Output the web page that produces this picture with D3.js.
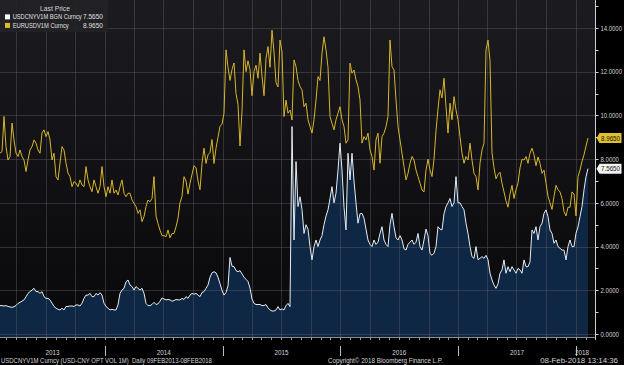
<!DOCTYPE html>
<html><head><meta charset="utf-8">
<script src="https://cdn.jsdelivr.net/npm/d3@7"></script>
<style>html,body{margin:0;padding:0;background:#000;overflow:hidden}</style>
</head><body><svg id="c" width="624" height="365"></svg>
<script>
const startDate = "2013-02-09", endDate = "2018-02-08";
const seriesNames = ["USDCNYV1M BGN Curncy", "EURUSDV1M Curncy"];
const lastValues = [7.5650, 8.9650];
const yTicks = [0, 2, 4, 6, 8, 10, 12, 14];
const yearLabels = ["2013", "2014", "2015", "2016", "2017", "2018"];
const footerLeft = "USDCNYV1M Curncy (USD-CNY OPT VOL 1M)  Daily 09FEB2013-08FEB2018";
const footerMid = "Copyright\u00A9 2018 Bloomberg Finance L.P.";
const footerRight = "08-Feb-2018 13:14:36";

// USD-CNY 1M option vol, evenly spaced samples between startDate and endDate
const usdcny = [
1.30,1.30,1.28,1.30,1.26,1.24,1.22,1.25,1.30,1.40,
1.45,1.50,1.56,1.70,1.86,1.94,2.01,2.09,1.94,1.94,
1.86,1.94,1.71,1.63,1.63,1.56,1.41,1.26,1.18,1.13,
1.10,1.18,1.10,1.26,1.26,1.28,1.28,1.26,1.33,1.33,
1.28,1.41,1.63,1.78,1.78,1.86,1.71,1.71,1.86,1.78,
1.89,1.78,1.41,1.26,1.18,1.10,1.13,1.10,1.10,1.33,
1.86,2.01,2.09,2.39,2.47,2.24,2.17,2.01,2.17,2.09,
2.01,2.09,1.86,1.40,1.30,1.30,1.35,1.45,1.35,1.38,
1.50,1.65,1.60,1.56,1.58,1.56,1.50,1.53,1.58,1.56,
1.56,1.63,1.58,1.71,1.63,1.78,1.86,1.82,1.86,1.78,
1.71,1.90,1.94,2.09,2.24,2.60,2.80,2.85,2.80,2.60,
2.30,2.00,1.78,1.90,2.20,3.50,3.10,3.08,2.90,2.85,
2.90,2.75,2.60,2.50,2.40,2.10,1.60,1.40,1.35,1.35,
1.35,1.30,1.30,1.35,1.20,1.10,1.05,1.05,1.10,1.25,
1.10,1.15,1.10,1.30,1.40,1.25,9.49,4.30,7.89,5.83,
6.28,5.70,4.60,5.00,4.80,4.00,3.39,4.00,4.30,4.00,
4.30,4.50,5.00,5.40,5.68,6.20,6.74,6.00,6.44,7.50,
8.73,7.50,5.80,4.76,8.27,7.05,8.27,7.00,6.00,5.07,
5.50,5.52,5.30,4.80,4.30,4.10,4.00,4.30,4.10,4.20,
4.60,4.91,4.30,4.10,4.00,5.00,5.52,4.90,4.40,4.30,
4.50,4.30,3.90,3.84,4.10,4.20,4.30,4.10,4.20,4.60,
4.00,3.84,4.30,4.80,4.50,3.69,3.60,3.70,4.00,4.91,
4.80,4.76,5.50,5.83,6.00,6.20,5.83,6.00,7.20,6.00,
6.00,5.83,5.68,5.07,4.60,4.00,3.54,3.46,4.00,3.40,
3.46,3.54,3.46,3.60,3.40,2.78,2.47,2.24,2.09,2.30,
2.78,2.93,3.39,2.78,3.08,2.85,3.08,2.93,2.78,3.00,
2.93,2.78,3.39,3.08,3.08,3.30,4.76,4.60,4.91,4.30,
4.91,5.07,5.52,5.68,5.37,4.76,4.60,4.15,4.30,4.00,
3.92,3.84,3.84,3.39,4.00,4.30,4.00,4.00,4.61,4.90,
5.37,5.83,6.59,7.20,7.565
];

// EUR-USD 1M option vol, same sample dates
const eurusd = [
8.28,8.34,9.95,8.57,7.96,8.12,9.65,8.88,8.28,8.12,
8.42,8.12,7.96,7.43,7.96,8.42,8.57,8.88,8.73,8.42,
8.27,9.20,9.34,9.03,9.26,8.88,7.96,8.27,7.20,7.05,
7.82,8.57,8.42,7.81,7.36,7.20,6.74,6.97,6.90,6.74,
7.05,6.82,6.74,7.66,7.05,6.74,6.51,7.05,6.74,6.44,
6.74,7.66,6.74,6.28,6.74,6.44,7.05,6.44,6.59,6.36,
6.74,7.05,6.44,6.28,6.44,6.44,6.13,5.98,5.83,5.52,
5.68,5.14,5.37,5.83,6.13,6.05,6.20,7.20,5.40,5.05,
4.75,4.50,4.50,4.45,4.76,4.40,4.60,4.60,4.90,5.30,
6.00,6.30,7.20,7.00,6.40,6.90,7.30,7.70,7.60,7.00,
6.60,7.80,8.50,7.80,8.20,8.30,8.90,7.80,8.50,9.00,
9.50,9.60,10.10,13.00,12.20,11.60,12.10,12.40,11.00,10.50,
8.60,10.20,13.00,12.00,12.50,12.10,10.90,12.00,12.30,11.70,
12.85,11.80,10.90,12.60,13.15,12.20,13.90,12.90,11.50,11.30,
13.45,12.90,9.95,10.70,10.10,10.25,9.79,12.54,12.23,11.60,
11.32,11.17,10.40,10.56,9.80,9.49,9.19,9.80,10.70,11.78,
11.60,12.85,13.60,13.00,12.20,9.95,9.64,9.34,9.80,10.10,
10.40,9.80,9.49,8.73,8.88,12.39,11.93,12.08,11.63,11.32,
10.71,8.73,9.03,8.88,9.19,8.42,8.12,7.50,8.88,9.19,
7.81,9.03,9.19,9.49,9.95,13.45,12.23,12.08,10.71,9.49,
8.88,8.27,7.66,7.05,7.35,7.81,8.12,7.96,7.50,7.20,
6.90,6.59,6.50,7.50,8.00,7.50,7.20,8.00,9.30,10.30,
11.17,10.80,11.70,10.40,9.19,10.56,9.80,10.86,10.25,9.80,
9.03,8.27,7.81,8.12,7.96,8.73,7.96,7.35,7.20,6.59,
7.81,8.42,8.73,13.00,13.45,12.50,8.30,7.60,7.10,7.30,
7.40,6.90,6.50,6.10,5.80,6.40,6.80,6.20,6.60,6.90,
7.60,8.00,7.96,8.12,7.81,8.27,8.50,8.20,7.70,8.10,
7.80,7.35,7.50,6.90,6.30,6.00,5.70,6.30,6.80,6.60,
6.50,6.20,5.60,5.40,5.80,5.80,6.50,6.40,5.40,7.20,
7.50,7.90,8.20,8.60,8.965
];

const W = 624, H = 365;
const plotL = 0, plotR = 595, plotT = 0, plotB = 337;
const svg = d3.select("#c");
const font = "'Liberation Sans',Arial,sans-serif";

// text squeezed horizontally to a target width (Bloomberg uses a condensed face)
function txt(parent, x, y, s, size, width, anchor, fill) {
  const gg = parent.append("g");
  const t = gg.append("text").attr("x", 0).attr("y", 0).text(s)
    .attr("font-family", font).attr("font-size", size).attr("fill", fill || "#d4d4d4")
    .attr("text-anchor", anchor || "start").attr("xml:space", "preserve");
  let sx = 1;
  if (width) { const L = t.node().getComputedTextLength(); if (L > 0) sx = width / L; }
  gg.attr("transform", `translate(${x},${y}) scale(${sx},1)`);
  return t;
}

const t0 = new Date(startDate + "T00:00:00"), t1 = new Date(endDate + "T00:00:00");
const x = d3.scaleTime().domain([t0, t1]).range([0, 588]);
const y = d3.scaleLinear().domain([0, 14]).range([334, 28]);

const n = usdcny.length;
const dateAt = i => new Date(+t0 + (t1 - t0) * i / (n - 1));
const dA = usdcny.map((v, i) => ({d: dateAt(i), v}));
const dB = eurusd.map((v, i) => ({d: dateAt(i), v}));

svg.append("rect").attr("width", W).attr("height", H).attr("fill", "#000");
const defs = svg.append("defs");
const g = defs.append("linearGradient").attr("id", "bg").attr("x1", 0).attr("y1", 0).attr("x2", 0).attr("y2", 1);
g.append("stop").attr("offset", "0%").attr("stop-color", "#1b1b20");
g.append("stop").attr("offset", "100%").attr("stop-color", "#08080a");
svg.append("rect").attr("x", plotL).attr("y", plotT).attr("width", plotR - plotL).attr("height", plotB - plotT).attr("fill", "url(#bg)");

// area
svg.append("path").datum(dA)
  .attr("d", d3.area().x(d => x(d.d)).y0(plotB).y1(d => y(d.v)))
  .attr("fill", "#0d2745");

// gridlines
const grid = svg.append("g").attr("stroke", "#5a5a60").attr("stroke-opacity", 0.45).attr("stroke-width", 1);
x.ticks(d3.timeMonth.every(3)).forEach(d => {
  const xx = Math.round(x(d)) + 0.5;
  grid.append("line").attr("x1", xx).attr("x2", xx).attr("y1", plotT).attr("y2", plotB);
});
yTicks.forEach(v => {
  const yy = Math.round(y(v)) + 0.5;
  grid.append("line").attr("x1", plotL).attr("x2", plotR).attr("y1", yy).attr("y2", yy);
});

// lines
svg.append("path").datum(dB)
  .attr("d", d3.line().x(d => x(d.d)).y(d => y(d.v)))
  .attr("fill", "none").attr("stroke", "#d7b52b").attr("stroke-width", 1);
svg.append("path").datum(dA)
  .attr("d", d3.line().x(d => x(d.d)).y(d => y(d.v)))
  .attr("fill", "none").attr("stroke", "#e6ecf3").attr("stroke-width", 1);

// right axis
const ax = svg.append("g").attr("transform", `translate(${plotR + 0.5},0)`);
ax.append("line").attr("y1", 0).attr("y2", plotB + 3).attr("stroke", "#cfcfcf").attr("stroke-width", 1);
d3.range(0, 16).forEach(v => {
  const yy = Math.round(y(v)) + 0.5;
  if (yy > 0) ax.append("line").attr("x1", 0).attr("x2", 3).attr("y1", yy).attr("y2", yy).attr("stroke", "#cfcfcf");
});
yTicks.forEach(v => {
  txt(ax, 5, y(v) + 2.7, d3.format(".4f")(v), 7.6, v >= 10 ? 21.5 : 18.5);
});

// last value tags
const tagColors = ["#f2f2f2", "#e1c02e"];
lastValues.forEach((v, i) => {
  const yy = y(v);
  ax.append("path").attr("d", `M1,${yy} L4,${yy - 5} L26,${yy - 5} L26,${yy + 5} L4,${yy + 5} Z`).attr("fill", tagColors[i]);
  txt(ax, 5.5, yy + 2.7, d3.format(".4f")(v), 7.6, 19, "start", "#111");
});

// bottom axis
const bx = svg.append("g");
bx.append("line").attr("x1", plotL).attr("x2", plotR).attr("y1", plotB + 0.5).attr("y2", plotB + 0.5).attr("stroke", "#8a8a8a");
x.ticks(d3.timeMonth.every(1)).forEach(d => {
  const xx = Math.round(x(d)) + 0.5;
  bx.append("line").attr("x1", xx).attr("x2", xx).attr("y1", plotB).attr("y2", plotB + 3).attr("stroke", "#9a9a9a");
});
x.ticks(d3.timeYear.every(1)).forEach(d => {
  const xx = Math.round(x(d)) + 0.5;
  bx.append("line").attr("x1", xx).attr("x2", xx).attr("y1", 346).attr("y2", 356).attr("stroke", "#bdbdbd");
});
yearLabels.forEach(yr => {
  const a = new Date(+yr, 0, 1), b = new Date(+yr + 1, 0, 1);
  const cx = (x(a < t0 ? t0 : a) + x(b > t1 ? t1 : b)) / 2;
  txt(bx, cx, 355.2, yr, 7.6, 14, "middle");
});

// footer
txt(svg, 1, 363.3, footerLeft, 7, 211);
txt(svg, 385.5, 363.3, footerMid, 7, 115, "middle");
txt(svg, 618, 363.3, footerRight, 7, 78, "end");

// legend
const lg = svg.append("g");
lg.append("rect").attr("x", 0).attr("y", 0).attr("width", 108).attr("height", 32).attr("fill", "#222226").attr("fill-opacity", 0.9);
txt(lg, 55, 11.3, "Last Price", 7.6, 30, "middle", "#d8d8d8");
const legColors = ["#ffffff", "#dcbb2c"];
const legWidths = [69, 56];
seriesNames.forEach((s, i) => {
  const yy = 19.4 + i * 8.5;
  lg.append("rect").attr("x", 5).attr("y", yy - 5).attr("width", 5).attr("height", 5).attr("fill", legColors[i]);
  txt(lg, 12.7, yy, s, 7.6, legWidths[i], "start", "#e0e0e0");
  txt(lg, 103, yy, d3.format(".4f")(lastValues[i]), 7.6, 20, "end", "#e0e0e0");
});
</script></body></html>
